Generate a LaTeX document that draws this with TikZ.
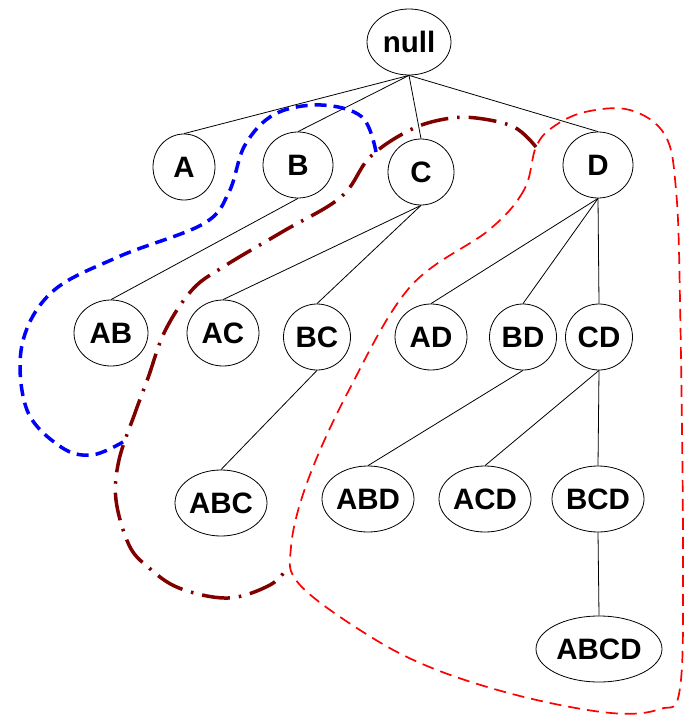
\documentclass[tikz,border=0pt]{standalone}
\usepackage{fontspec}
\setmainfont{Liberation Sans}
\usetikzlibrary{shapes.geometric}
\definecolor{cutred}{RGB}{128,0,0}
\tikzstyle{item}=[ellipse, draw=black, line width=.8bp, inner sep=0pt, minimum height=66bp, font=\fontsize{29.5bp}{31bp}\selectfont\bfseries]
\tikzstyle{edge}=[line width=.8bp]
\tikzstyle{bluecut}=[draw=blue, line width=3.5bp, dash pattern=on 12bp off 7bp]
\tikzstyle{darkcut}=[draw=cutred, line width=3.5bp, dash pattern=on 28bp off 9bp on 2.5bp off 9bp]
\tikzstyle{redcut}=[draw=red, line width=1.7bp, dash pattern=on 12bp off 7bp]

\begin{document}
\begin{tikzpicture}[x=1bp, y=-1bp]
        \useasboundingbox (0,0) rectangle (684,716);
        % itemsets
        \node[item, minimum width=84bp] (null) at (409,42) {null};
        \node[item, minimum width=62bp] (A) at (184,167) {A};
        \node[item, minimum width=70bp] (B) at (298,165) {B};
        \node[item, minimum width=66bp] (C) at (421,172) {C};
        \node[item, minimum width=70bp] (D) at (598,165) {D};
        \node[item, minimum width=74bp] (AB) at (111,333) {AB};
        \node[item, minimum width=72bp] (AC) at (223,333) {AC};
        \node[item, minimum width=67bp] (BC) at (317,337) {BC};
        \node[item, minimum width=72bp] (AD) at (431,337) {AD};
        \node[item, minimum width=67bp] (BD) at (523,337) {BD};
        \node[item, minimum width=67bp] (CD) at (599,337) {CD};
        \node[item, minimum width=92bp] (ABC) at (221,503) {ABC};
        \node[item, minimum width=92bp] (ABD) at (368,499) {ABD};
        \node[item, minimum width=92bp] (ACD) at (485,499) {ACD};
        \node[item, minimum width=92bp] (BCD) at (598,499) {BCD};
        \node[item, minimum width=126bp] (ABCD) at (599,649) {ABCD};

        \foreach \s in {A,B,C,D}
            \draw[edge] (null.south) -- (\s.north);
        \draw[edge] (B.south) -- (AB.north);
        \foreach \s in {AC,BC}
            \draw[edge] (C.south) -- (\s.north);
        \foreach \s in {AD,BD,CD}
            \draw[edge] (D.south) -- (\s.north);
        \draw[edge] (BC.south) -- (ABC.north);
        \draw[edge] (BD.south) -- (ABD.north);
        \foreach \s in {ACD,BCD}
            \draw[edge] (CD.south) -- (\s.north);
        \draw[edge] (BCD.south) -- (ABCD.north);

        % borders
        \draw[bluecut] plot[smooth, tension=.6] coordinates {(376,152) (362,117) (321,105) (275,114) (245,145) (229,192) (203,224) (118,257) (52,292) (22,345) (27,410) (61,447) (92,455) (123,442)};
        \draw[darkcut] plot[smooth, tension=.6] coordinates {(536,147) (514,127) (476,118) (445,119) (410,130) (370,157) (341,197) (282,232) (223,267) (192,290) (165,331) (148,378) (135,413) (119,460) (116,500) (129,545) (148,567) (179,588) (228,598) (270,585) (288,567)};
        \draw[redcut] plot[smooth cycle, tension=.6] coordinates {(536,147) (524,190) (489,230) (410,287) (349,390) (308,480) (291,547) (300,585) (371,637) (437,670) (524,697) (611,713) (660,709) (680,688) (683,550) (680,300) (676,190) (665,135) (630,110) (585,112) (553,127)};
\end{tikzpicture}
\end{document}
